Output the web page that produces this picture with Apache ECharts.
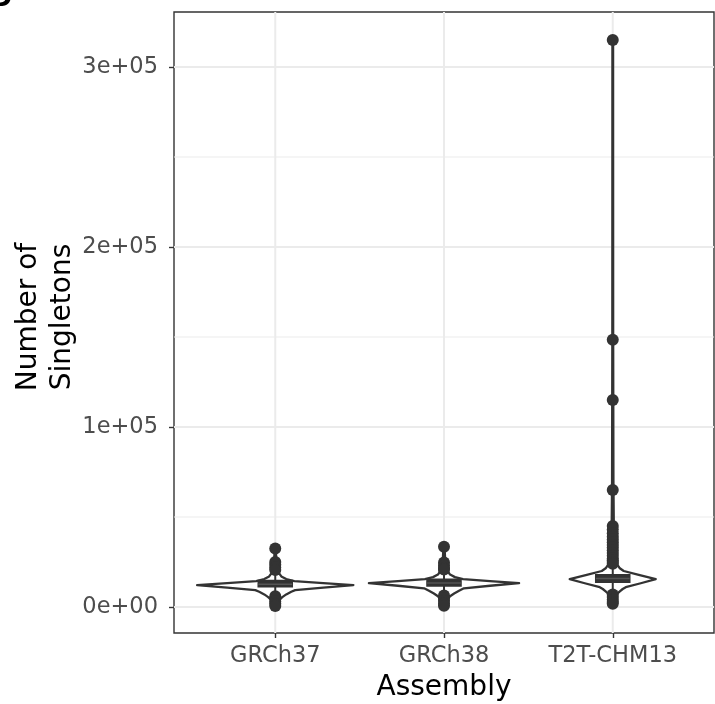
<!DOCTYPE html>
<html>
<head>
<meta charset="utf-8">
<script src="https://cdn.jsdelivr.net/npm/echarts@6/dist/echarts.min.js"></script>
<style>html,body{margin:0;padding:0;background:#fff}#c{width:715px;height:704px}</style>
</head>
<body>
<div id="c"></div>
<script>
// ---------- data ----------
const categories = ['GRCh37', 'GRCh38', 'T2T-CHM13'];
const yTickValues = [0, 100000, 200000, 300000];
const yTickLabels = ['0e+00', '1e+05', '2e+05', '3e+05'];
const yMinorValues = [50000, 150000, 250000];
const xTitle = 'Assembly';
const yTitle = 'Number of\nSingletons';

// violin outlines: [value, half-width in category units]
const violinGRCh37 = [[600,0.006],[2000,0.012],[4000,0.024],[5500,0.042],[7000,0.065],[8500,0.095],[9400,0.118],[10800,0.285],[12200,0.463],[13300,0.285],[14400,0.113],[15500,0.065],[17000,0.036],[19000,0.021],[22000,0.012],[27000,0.006],[32500,0.003]];
const violinGRCh38 = [[700,0.006],[2000,0.009],[4000,0.018],[6000,0.036],[7500,0.06],[9000,0.089],[10400,0.118],[11800,0.273],[13300,0.445],[14400,0.273],[15500,0.113],[16600,0.065],[18000,0.036],[20000,0.021],[23000,0.012],[28000,0.006],[33500,0.003]];
const violinT2T = [[1800,0.006],[3000,0.012],[5500,0.018],[7500,0.027],[8700,0.042],[10000,0.059],[11000,0.077],[13200,0.166],[15500,0.255],[17800,0.154],[20000,0.065],[21500,0.042],[23500,0.027],[27000,0.018],[32000,0.012],[40000,0.009],[48000,0.006],[70000,0.004],[150000,0.0025],[315000,0.002]];
const violinProfiles = [violinGRCh37, violinGRCh38, violinT2T];

// box statistics: [lower whisker, q1, median, q3, upper whisker]
const boxGRCh37 = [7000, 11300, 12700, 14700, 19500];
const boxGRCh38 = [7500, 11800, 13300, 15300, 20500];
const boxT2T = [8500, 13900, 15800, 17800, 23500];
const boxStats = [boxGRCh37, boxGRCh38, boxT2T];

// outliers
const outGRCh37 = [32500, 25000, 23500, 22000, 20500, 6000, 4500, 3000, 1800, 600];
const outGRCh38 = [33500, 24700, 23000, 21500, 20800, 6400, 5000, 3500, 2000, 700];
const outT2T = [315000, 148500, 115000, 65000, 45000, 43000, 41000, 39000, 37500, 36000, 34500, 33000, 31500, 30000, 28500, 27000, 26000, 25000, 24000, 7000, 5500, 4000, 2800, 1800];
const outliers = [outGRCh37, outGRCh38, outT2T];

// ---------- chart ----------
const chart = echarts.init(document.getElementById('c'), null, {renderer: 'canvas'});
const FONT = 'DejaVu Sans';
const INK = '#333333';

const outlierData = [];
outliers.forEach((arr, i) => arr.forEach(v => outlierData.push([i, v])));

function hLineSeries(values, width) {
  return {
    type: 'custom', silent: true, z: 0,
    data: values.map(v => [0, v]),
    encode: {x: 0, y: 1},
    clip: false,
    renderItem: function (params, api) {
      const cs = params.coordSys;
      const y = api.coord([0, api.value(1)])[1];
      return {type: 'line', shape: {x1: cs.x, y1: y, x2: cs.x + cs.width, y2: y},
        style: {stroke: '#ebebeb', lineWidth: width}};
    }
  };
}

const option = {
  animation: false,
  backgroundColor: '#ffffff',
  textStyle: {fontFamily: FONT},
  grid: {left: 174, right: 1, top: 12, bottom: 71, show: true, borderColor: INK, borderWidth: 1.4,
    backgroundColor: 'transparent', containLabel: false, outerBoundsMode: 'none'},
  xAxis: {
    type: 'value', min: -0.6, max: 2.6,
    splitLine: {show: false},
    axisLine: {show: false, onZero: false},
    axisTick: {show: true, customValues: [0, 1, 2], length: 5, inside: false, lineStyle: {color: INK, width: 1.4}},
    axisLabel: {customValues: [0, 1, 2], formatter: v => categories[Math.round(v)], fontSize: 22.5, color: '#4d4d4d', margin: 12, fontFamily: FONT},
    name: xTitle, nameLocation: 'middle', nameGap: 41,
    nameTextStyle: {fontSize: 28, color: '#000', fontFamily: FONT, verticalAlign: 'top'}
  },
  yAxis: {
    type: 'value', min: -14444, max: 330556,
    splitLine: {show: false},
    axisLine: {show: false, onZero: false},
    axisTick: {show: true, customValues: yTickValues, length: 5, lineStyle: {color: INK, width: 1.4}},
    axisLabel: {customValues: yTickValues, formatter: v => yTickLabels[yTickValues.indexOf(v)] || '', fontSize: 22.5, color: '#4d4d4d', margin: 16, fontFamily: FONT}
  },
  graphic: [{
    type: 'text', x: -8, y: 0,
    style: {text: 'D', fontSize: 24, fontWeight: 'bold', fill: '#000', fontFamily: FONT, verticalAlign: 'middle', align: 'left'}
  }, {
    type: 'text', x: 46, y: 317, rotation: Math.PI / 2,
    style: {text: yTitle, fontSize: 28, lineHeight: 34, fill: '#000', fontFamily: FONT, align: 'center', verticalAlign: 'middle'}
  }],
  series: [
    hLineSeries(yMinorValues, 1),
    hLineSeries(yTickValues, 2),
    {
      type: 'custom', silent: true, z: 0,
      data: categories.map((c, i) => [i, 0]),
      encode: {x: 0, y: 1},
      clip: false,
      renderItem: function (params, api) {
        const cs = params.coordSys;
        const x = api.coord([api.value(0), 0])[0];
        return {type: 'line', shape: {x1: x, y1: cs.y, x2: x, y2: cs.y + cs.height},
          style: {stroke: '#ebebeb', lineWidth: 2}};
      }
    },
    {
      type: 'custom', silent: true, z: 2,
      data: categories.map((c, i) => [i, 0]),
      encode: {x: 0, y: 1},
      renderItem: function (params, api) {
        const i = api.value(0);
        const prof = violinProfiles[i];
        const pts = [];
        for (let k = 0; k < prof.length; k++) pts.push(api.coord([i - prof[k][1], prof[k][0]]));
        for (let k = prof.length - 1; k >= 0; k--) pts.push(api.coord([i + prof[k][1], prof[k][0]]));
        return {type: 'polygon', shape: {points: pts},
          style: {fill: '#ffffff', stroke: INK, lineWidth: 2.3, lineJoin: 'round'}};
      }
    },
    {
      type: 'custom', silent: true, z: 3,
      data: boxStats.map((b, i) => [i].concat(b)),
      encode: {x: 0, y: [1, 2, 3, 4, 5]},
      renderItem: function (params, api) {
        const i = api.value(0);
        const hw = 0.1;
        const lo = api.coord([i, api.value(1)]);
        const q1 = api.coord([i - hw, api.value(2)]);
        const md = api.coord([i - hw, api.value(3)]);
        const q3 = api.coord([i + hw, api.value(4)]);
        const hi = api.coord([i, api.value(5)]);
        const mdR = api.coord([i + hw, api.value(3)]);
        return {type: 'group', children: [
          {type: 'line', shape: {x1: lo[0], y1: lo[1], x2: lo[0], y2: q1[1]}, style: {stroke: INK, lineWidth: 2}},
          {type: 'line', shape: {x1: hi[0], y1: hi[1], x2: hi[0], y2: q3[1]}, style: {stroke: INK, lineWidth: 2}},
          {type: 'rect', shape: {x: q1[0], y: q3[1], width: q3[0] - q1[0], height: q1[1] - q3[1]},
            style: {fill: INK, stroke: INK, lineWidth: 1.8}},
          {type: 'line', shape: {x1: md[0], y1: md[1], x2: mdR[0], y2: mdR[1]}, style: {stroke: '#555555', lineWidth: 1.5}}
        ]};
      }
    },
    {
      type: 'scatter', z: 4, silent: true,
      data: outlierData,
      symbol: 'circle', symbolSize: 12,
      itemStyle: {color: INK, opacity: 1}
    }
  ]
};
chart.setOption(option);
</script>
</body>
</html>
